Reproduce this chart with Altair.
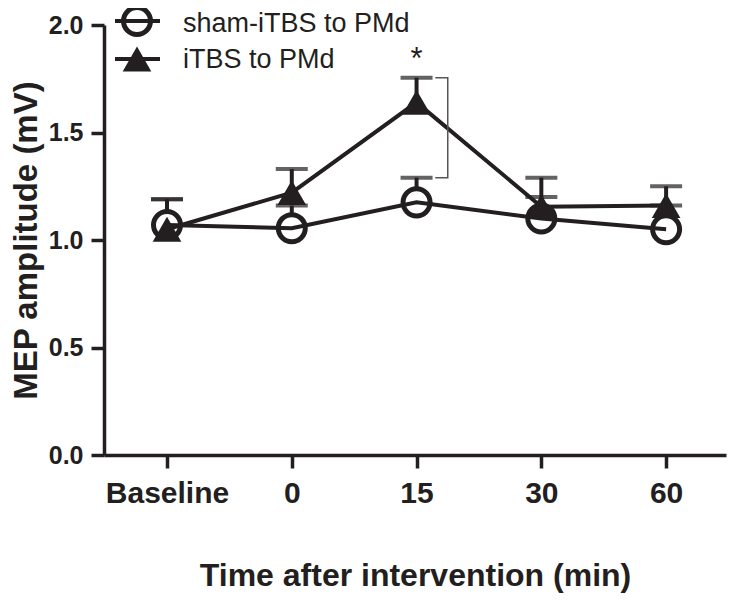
import json
import altair as alt
import pandas as pd

# ---------------- data ----------------
categories = ["Baseline", "0", "15", "30", "60"]
series_names = ["sham-iTBS to PMd", "iTBS to PMd"]
sham_mean = [1.07, 1.055, 1.175, 1.10, 1.05]
sham_upper = [1.19, 1.16, 1.29, 1.20, 1.16]
itbs_mean = [1.05, 1.22, 1.64, 1.155, 1.16]
itbs_upper = [1.19, 1.33, 1.755, 1.29, 1.25]
sig_index = [2]
sig_label = ["*"]
y_ticks = [0.0, 0.5, 1.0, 1.5, 2.0]

INK = "#231f20"
FONT = "Liberation Sans"

rows = []
for i, c in enumerate(categories):
    rows.append(dict(t=i, cat=c, series=series_names[0], mean=sham_mean[i], upper=sham_upper[i]))
    rows.append(dict(t=i, cat=c, series=series_names[1], mean=itbs_mean[i], upper=itbs_upper[i]))
df = pd.DataFrame(rows)
sham = df[df.series == series_names[0]]
itbs = df[df.series == series_names[1]]

# bracket spanning the two caps at the significant time point
si = sig_index[0]
b_lo = sham_upper[si]
b_hi = itbs_upper[si]
bracket = pd.DataFrame({
    "bx": [si + 0.15, si + 0.25, si + 0.25, si + 0.15],
    "by": [b_hi, b_hi, b_lo, b_lo],
    "o": [0, 1, 2, 3],
})
star = pd.DataFrame({"t": [si], "y": [b_hi + 0.04], "s": sig_label})

# ---------------- scales / axes ----------------
x_scale = alt.Scale(domain=[-0.505, 4.48], nice=False, zero=False)
y_scale = alt.Scale(domain=[0, 2], nice=False, zero=True)

label_expr = json.dumps(categories) + "[datum.value]"
x_axis = alt.Axis(
    values=list(range(len(categories))), labelExpr=label_expr, grid=False,
    domainColor=INK, domainWidth=3.5, tickColor=INK, tickWidth=3.5, tickSize=13,
    labelFont=FONT, labelFontSize=30, labelFontWeight="bold", labelColor=INK,
    labelPadding=10, labelFlush=False, labelOverlap=False,
    title="Time after intervention (min)", titleFont=FONT, titleFontSize=32,
    titleFontWeight="bold", titleColor=INK, titlePadding=52,
)
y_axis = alt.Axis(
    values=y_ticks, format=".1f", grid=False,
    domainColor=INK, domainWidth=3.5, tickColor=INK, tickWidth=3.5, tickSize=13,
    labelFont=FONT, labelFontSize=25, labelFontWeight="bold", labelColor=INK,
    labelPadding=8, labelFlush=False,
    title="MEP amplitude (mV)", titleFont=FONT, titleFontSize=33,
    titleFontWeight="bold", titleColor=INK, titlePadding=5,
)

X = alt.X("t:Q", scale=x_scale, axis=x_axis)
Y = alt.Y("mean:Q", scale=y_scale, axis=y_axis)

# ---------------- layers ----------------
stems = alt.Chart(df).mark_rule(color=INK, strokeWidth=4).encode(
    x=X, y=Y, y2="upper:Q")
caps = alt.Chart(df).mark_tick(color=INK, orient="horizontal", size=32, thickness=4).encode(
    x=X, y=alt.Y("upper:Q", scale=y_scale, axis=y_axis))
circles = alt.Chart(sham).mark_point(
    shape="circle", size=730, filled=False, fill="white", fillOpacity=1,
    stroke=INK, strokeWidth=5, opacity=1).encode(x=X, y=Y)
line_sham = alt.Chart(sham).mark_line(color=INK, strokeWidth=4).encode(x=X, y=Y)
line_itbs = alt.Chart(itbs).mark_line(color=INK, strokeWidth=4).encode(x=X, y=Y)
triangles = alt.Chart(itbs).mark_point(
    shape="triangle-up", size=820, filled=True, color=INK, opacity=1).encode(x=X, y=Y)

bracket_line = alt.Chart(bracket).mark_line(color="#555555", strokeWidth=1.5).encode(
    x=alt.X("bx:Q", scale=x_scale, axis=x_axis),
    y=alt.Y("by:Q", scale=y_scale, axis=y_axis),
    order="o:Q")
star_text = alt.Chart(star).mark_text(
    font=FONT, fontSize=31, color=INK, baseline="alphabetic", align="center").encode(
    x=alt.X("t:Q", scale=x_scale, axis=x_axis),
    y=alt.Y("y:Q", scale=y_scale, axis=y_axis),
    text="s:N")

# ---------------- manual legend ----------------
leg = pd.DataFrame({"label": series_names})
leg0 = leg.iloc[[0]]
leg1 = leg.iloc[[1]]
leg_line0 = alt.Chart(leg0).mark_rule(color=INK, strokeWidth=4).encode(
    x=alt.value(11), x2=alt.value(56), y=alt.value(-4))
leg_line1 = alt.Chart(leg1).mark_rule(color=INK, strokeWidth=4).encode(
    x=alt.value(11), x2=alt.value(56), y=alt.value(34))
leg_circle = alt.Chart(leg0).mark_point(
    shape="circle", size=730, filled=False, stroke=INK, strokeWidth=5, opacity=1).encode(
    x=alt.value(33), y=alt.value(-4))
leg_tri = alt.Chart(leg1).mark_point(
    shape="triangle-up", size=820, filled=True, color=INK, opacity=1).encode(
    x=alt.value(33), y=alt.value(34))
leg_text0 = alt.Chart(leg0).mark_text(
    font=FONT, fontSize=27, color=INK, align="left", baseline="alphabetic").encode(
    x=alt.value(79), y=alt.value(7), text="label:N")
leg_text1 = alt.Chart(leg1).mark_text(
    font=FONT, fontSize=27, color=INK, align="left", baseline="alphabetic").encode(
    x=alt.value(79), y=alt.value(43), text="label:N")

chart = alt.layer(
    stems, caps, circles, line_sham, line_itbs, triangles,
    bracket_line, star_text,
    leg_line0, leg_line1, leg_circle, leg_tri, leg_text0, leg_text1,
).properties(
    width=622, height=430,
    autosize=alt.AutoSizeParams(type="none"),
    padding={"left": 96, "top": 17, "right": 3, "bottom": 139},
    background="white",
).configure_view(stroke=None)

chart.save("out.html", embed_options={"renderer": "svg", "actions": False})
